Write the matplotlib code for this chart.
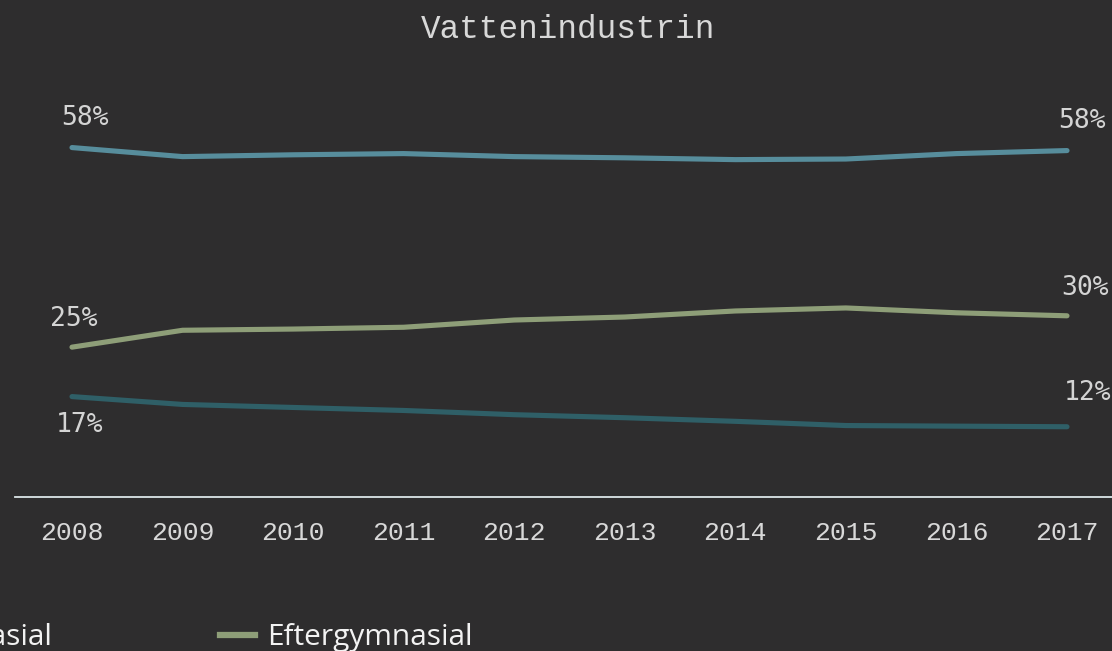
import matplotlib.pyplot as plt
from matplotlib.lines import Line2D

# data (percent)
years = [2008, 2009, 2010, 2011, 2012, 2013, 2014, 2015, 2016, 2017]
gymnasial = [58.0, 56.5, 56.8, 57.0, 56.5, 56.3, 56.0, 56.1, 57.0, 57.5]
eftergymnasial = [24.9, 27.7, 27.9, 28.2, 29.4, 29.9, 30.9, 31.4, 30.6, 30.1]
forgymnasial = [16.7, 15.4, 14.9, 14.4, 13.7, 13.2, 12.6, 11.9, 11.8, 11.7]
series_names = ['Förgymnasial', 'Gymnasial', 'Eftergymnasial']
title = 'Vattenindustrin'

bg = '#2e2d2e'
txt = '#dedede'
colors = {'Gymnasial': '#578d9c', 'Eftergymnasial': '#8e9e78', 'Förgymnasial': '#2f5f67'}
series = {'Förgymnasial': forgymnasial, 'Gymnasial': gymnasial, 'Eftergymnasial': eftergymnasial}

# label offsets in pixels (start label, end label)
offsets = {'Gymnasial': ((13, 30), (15, 30)),
           'Eftergymnasial': ((2, 28), (18, 28)),
           'Förgymnasial': ((8, -28), (21, 34))}

fig = plt.figure(figsize=(11.12, 6.51), dpi=100, facecolor=bg)
W, H = 1112, 651
ax = fig.add_axes([15 / W, 1 - 497.3 / H, 1 - 15 / W, (497.3 - 80) / H])
ax.set_facecolor(bg)

for name in ['Gymnasial', 'Eftergymnasial', 'Förgymnasial']:
    vals = series[name]
    ax.plot(years, vals, color=colors[name], lw=3.7, solid_capstyle='round',
            solid_joinstyle='round')
    for i, (dx, dy) in zip([0, -1], offsets[name]):
        ax.annotate(f'{round(vals[i])}%', (years[i], vals[i]),
                    xytext=(dx * 0.72, dy * 0.72), textcoords='offset points',
                    ha='center', va='center', color='#d4d4d4', fontsize=19,
                    family='DejaVu Sans Mono')

ax.set_xlim(2008 - 57 / 110.56, 2017 + 45 / 110.56)
ax.set_ylim(0, (497.3 - 80) / 6.03)
for s in ['top', 'left', 'right']:
    ax.spines[s].set_visible(False)
ax.spines['bottom'].set_color('#dbe6e8')
ax.spines['bottom'].set_linewidth(1.3)
ax.set_yticks([])
ax.set_xticks(years)
ax.set_xticklabels([str(y) for y in years], family='Liberation Mono',
                   fontsize=19, color='#d8d8d8')
ax.tick_params(axis='x', length=0, pad=17)

fig.text(568 / W, 1 - 30 / H, title, ha='center', va='center',
         family='Liberation Mono', fontsize=23.5, color='#d8d8d8')

handles = [Line2D([], [], color=colors[n], lw=4.5) for n in series_names]
leg = fig.legend(handles, series_names, loc='center right',
                 bbox_to_anchor=(488 / W, 1 - 638 / H), ncol=3, frameon=False,
                 prop={'family': 'Open Sans', 'size': 21.5}, labelcolor='#f2f2f2',
                 handlelength=1.2, handletextpad=0.4, columnspacing=5.6,
                 borderpad=0)

fig.savefig('out.png', dpi=100, facecolor=bg)
